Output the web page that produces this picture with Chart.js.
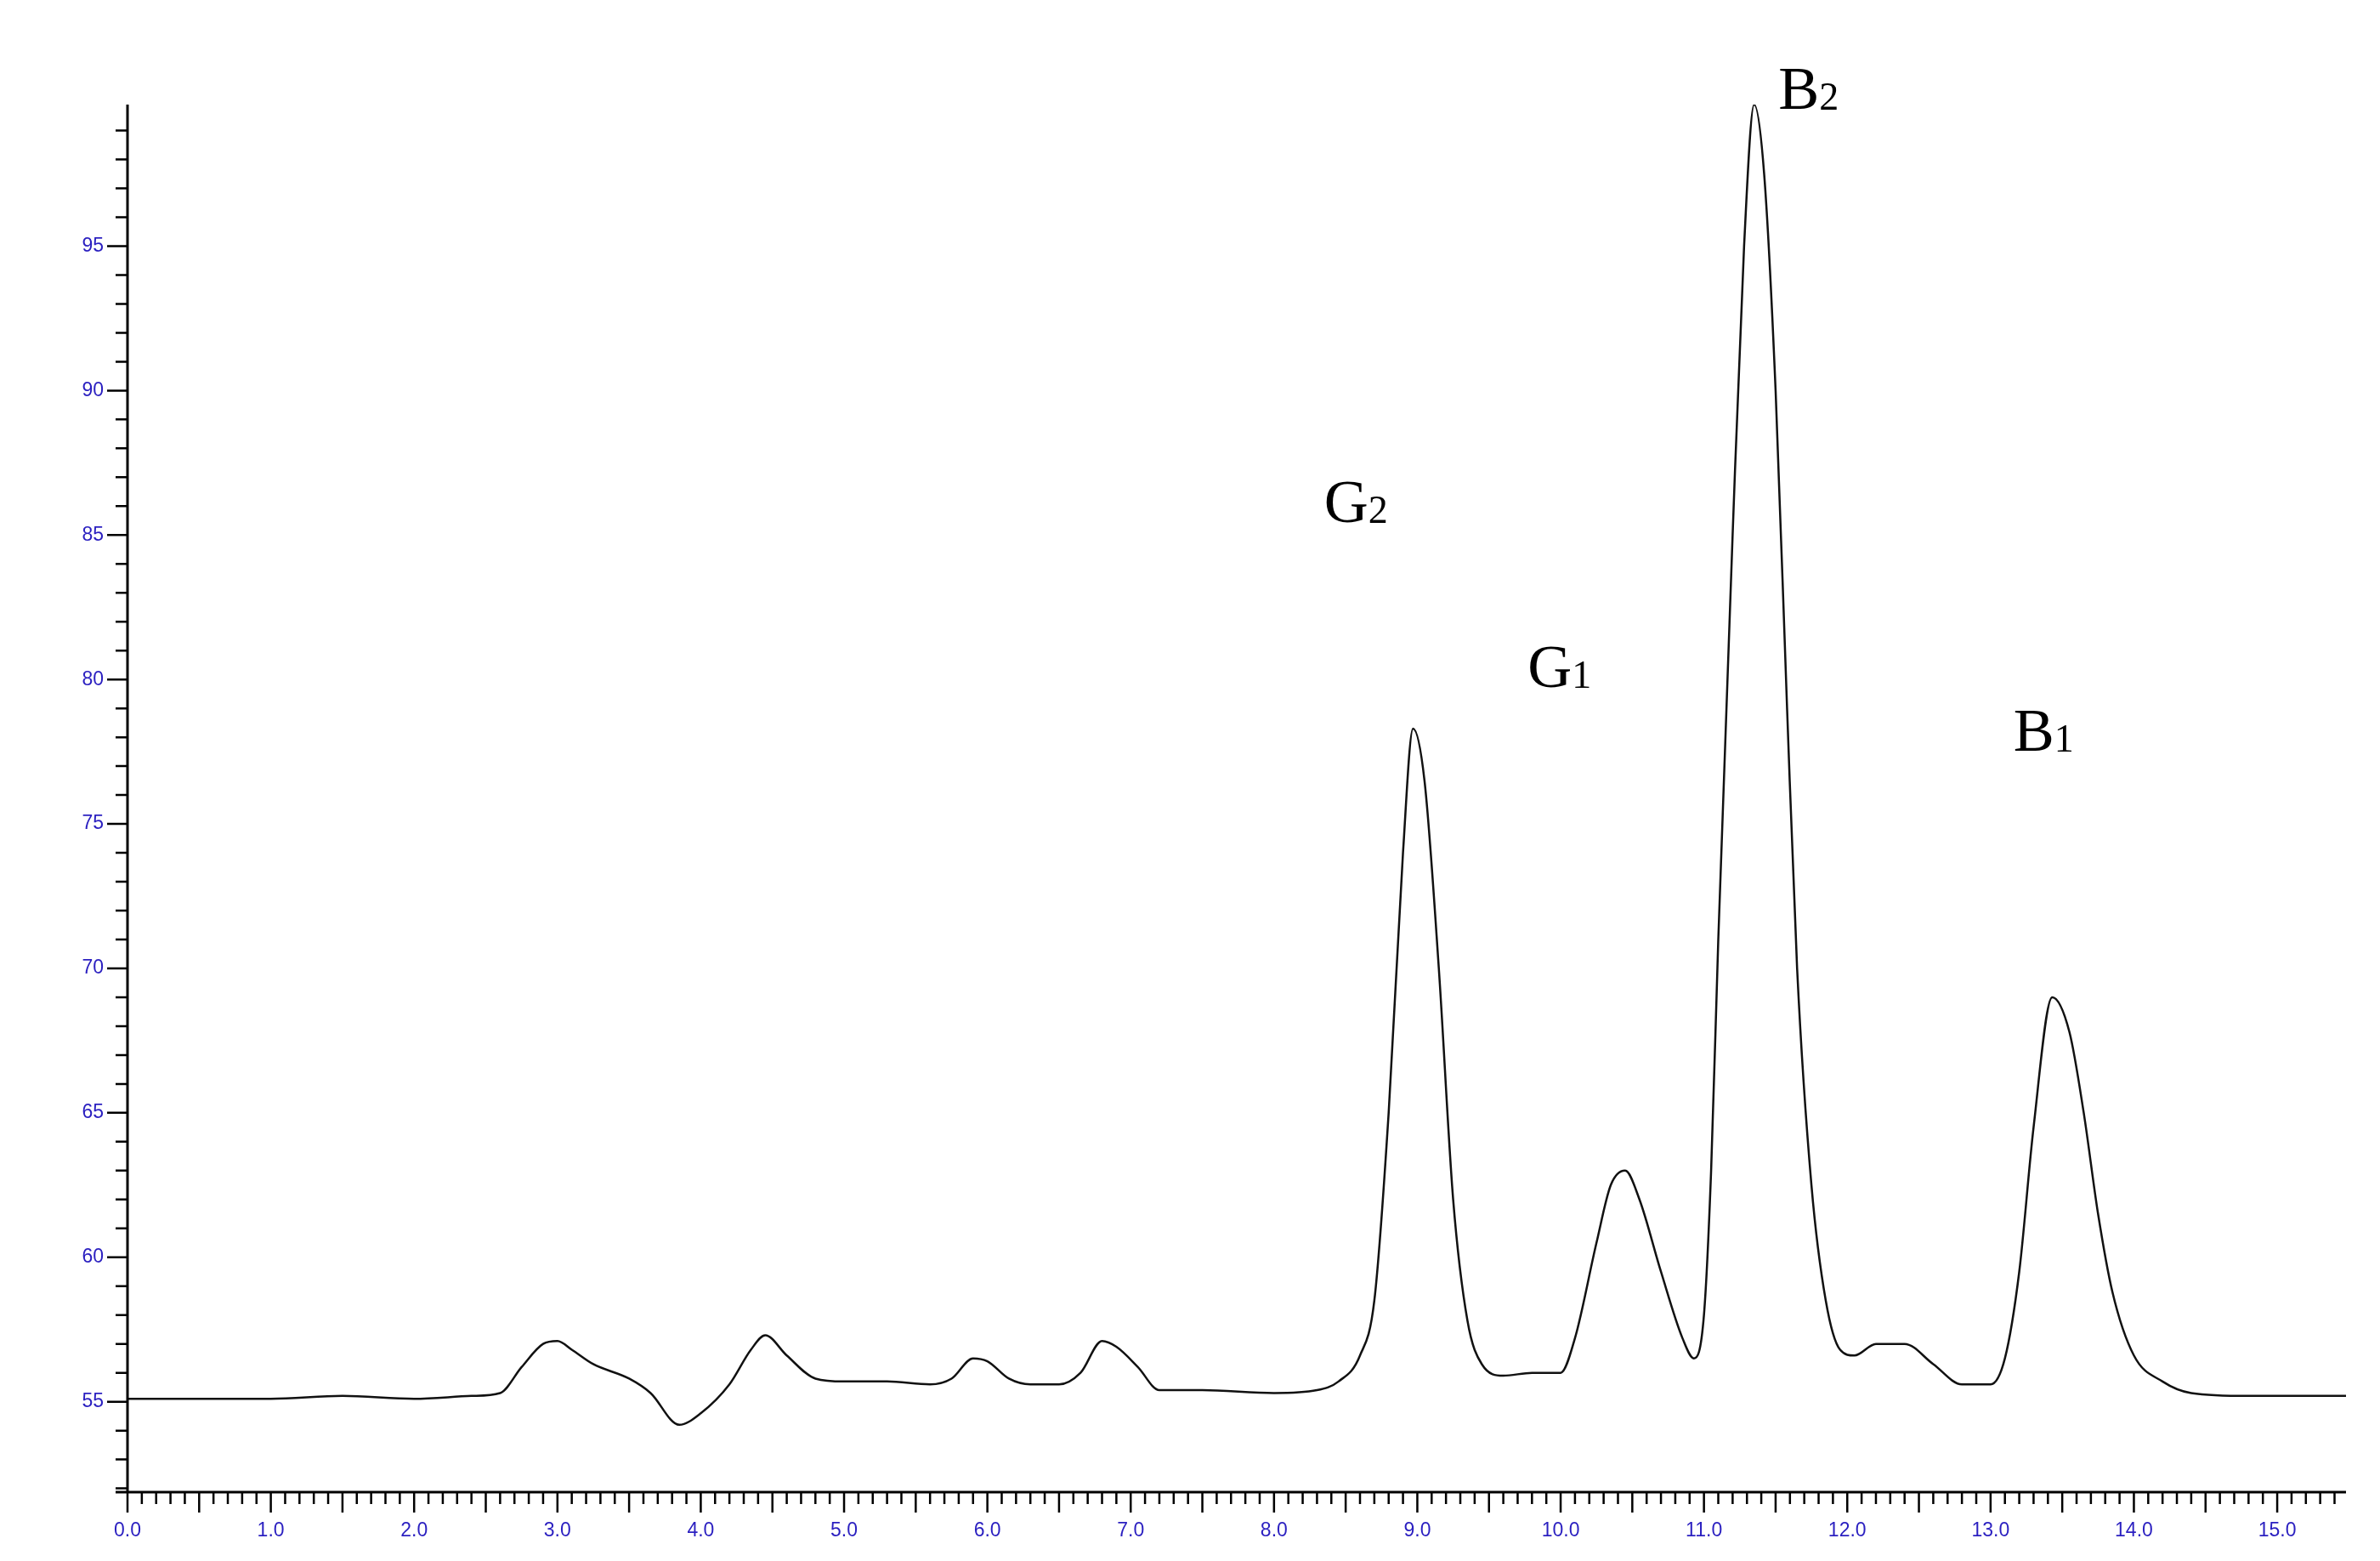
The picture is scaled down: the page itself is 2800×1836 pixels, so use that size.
<!DOCTYPE html>
<html><head><meta charset="utf-8">
<script src="https://cdn.jsdelivr.net/npm/chart.js@4"></script>
<style>html,body{margin:0;background:#fff}#w{width:2800px;height:1836px}</style>
</head><body><div id="w"><canvas id="c"></canvas></div>
<script>
const timeMin = [0,0.5,1,1.5,2,2.4,2.6,2.75,2.9,3.0,3.1,3.25,3.5,3.65,3.85,4.0,4.2,4.35,4.45,4.6,4.8,5.0,5.3,5.6,5.75,5.9,6.0,6.15,6.3,6.5,6.65,6.8,6.9,7.05,7.2,7.5,8.0,8.3,8.45,8.6,8.7,8.8,8.9,8.97,9.05,9.15,9.25,9.35,9.45,9.6,9.8,10.0,10.1,10.25,10.35,10.45,10.55,10.7,10.85,10.93,11.0,11.05,11.1,11.2,11.28,11.35,11.42,11.5,11.58,11.65,11.75,11.85,11.95,12.05,12.2,12.4,12.6,12.8,13.0,13.1,13.2,13.3,13.43,13.55,13.65,13.75,13.85,14.0,14.2,14.4,14.8,15.2,15.48];
const signal  = [55.1,55.1,55.1,55.2,55.1,55.2,55.3,56.2,57.0,57.1,56.8,56.3,55.8,55.3,54.2,54.6,55.6,56.8,57.3,56.6,55.8,55.7,55.7,55.6,55.8,56.5,56.4,55.8,55.6,55.6,56.0,57.1,56.9,56.2,55.4,55.4,55.3,55.4,55.7,56.6,58.5,65,74,78.3,76.5,70,62,57.8,56.3,55.9,56.0,56.0,57.2,60.5,62.5,63.0,62.0,59.5,57.2,56.5,58,63,71,85,95,99.9,97.5,90,79,70,62.5,58.5,56.8,56.6,57.0,57.0,56.3,55.6,55.6,56.5,59.5,64.5,69.0,67.8,65,61.5,58.8,56.6,55.7,55.3,55.2,55.2,55.2];
const xTickLabels = [0,1,2,3,4,5,6,7,8,9,10,11,12,13,14,15];
const yTickLabels = [55,60,65,70,75,80,85,90,95];
const peakLabels = ["G","G","B","B"];
const peakSubs = ["2","1","2","1"];
const peakX = [8.35,9.77,11.52,13.16];
const peakY = [86.0,80.3,100.3,78.1];

const blue = '#2a1fc0';
const ticksPlugin = {
  id:'ticksDraw',
  afterDraw(chart){
    const ctx = chart.ctx, xs = chart.scales.x, ys = chart.scales.y, a = chart.chartArea;
    ctx.save(); ctx.strokeStyle='#000'; ctx.lineWidth=3;
    ctx.beginPath(); ctx.moveTo(a.left, a.top); ctx.lineTo(a.left, a.bottom);
    ctx.moveTo(a.left-14, a.bottom); ctx.lineTo(a.right, a.bottom); ctx.stroke();
    ctx.lineWidth=2.5; ctx.beginPath();
    for(let v=52; v<=99; v++){ const p=ys.getPixelForValue(v); const L = v%5===0?24:14; ctx.moveTo(a.left-L,p); ctx.lineTo(a.left,p); }
    for(let i=0;i<=154;i++){ const v=i/10; const p=xs.getPixelForValue(v); const L = i%5===0?24:14; ctx.moveTo(p,a.bottom); ctx.lineTo(p,a.bottom+L); }
    ctx.stroke();
    ctx.fillStyle='#000'; ctx.textBaseline='middle';
    peakLabels.forEach((t,i)=>{
      const x=xs.getPixelForValue(peakX[i]), y=ys.getPixelForValue(peakY[i]);
      ctx.font='72px "Liberation Serif"'; ctx.textAlign='left'; ctx.fillText(t,x,y);
      const w=ctx.measureText(t).width; ctx.font='46px "Liberation Serif"'; ctx.fillText(peakSubs[i],x+w,y+8);
    });
    ctx.restore();
  }
};
new Chart(document.getElementById('c'),{
  type:'line',
  data:{datasets:[{data:timeMin.map((t,i)=>({x:t,y:signal[i]})),borderColor:'#111',borderWidth:2.5,pointRadius:0,cubicInterpolationMode:'monotone'}]},
  options:{responsive:true,maintainAspectRatio:false,animation:false,
    layout:{padding:{top:123,right:40,left:0,bottom:0}},
    plugins:{legend:{display:false},tooltip:{enabled:false}},
    scales:{
      x:{type:'linear',min:0,max:15.48,border:{display:false},grid:{display:false,drawTicks:false},
        afterFit(s){s.height=81;},
        afterBuildTicks(s){s.ticks=xTickLabels.map(v=>({value:v}));},
        ticks:{autoSkip:false,maxRotation:0,padding:32,color:blue,font:{family:'Liberation Sans',size:23},
          callback:v=>Number(v).toFixed(1)}},
      y:{min:51.87,max:99.9,border:{display:false},grid:{display:false,drawTicks:false},
        afterFit(s){s.width=150;},
        ticks:{autoSkip:false,padding:28,color:blue,font:{family:'Liberation Sans',size:23},
          callback:v=>String(v)},
        afterBuildTicks(s){s.ticks=yTickLabels.map(v=>({value:v}));}}
    }
  },
  plugins:[ticksPlugin]
});
</script></body></html>
